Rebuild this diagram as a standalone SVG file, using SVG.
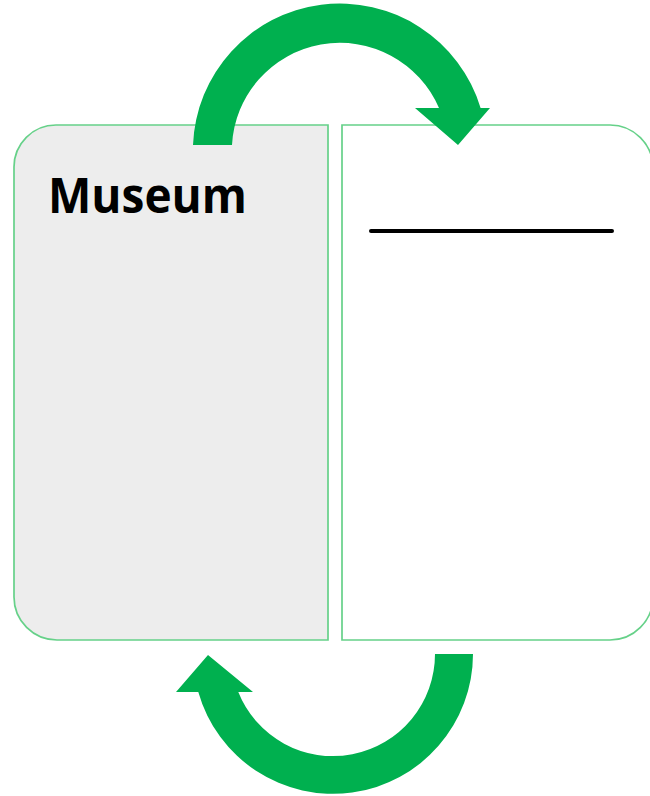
<svg xmlns="http://www.w3.org/2000/svg" width="650" height="796" viewBox="0 0 650 796">
<style>
.panel{stroke:#66d189;stroke-width:1.7}
.arrow{fill:#00b04f}
.label{font-family:"Open Sans","Liberation Sans",sans-serif;font-weight:bold;font-size:48px;fill:#000}
</style>
<rect width="650" height="796" fill="#fff"/>
<g id="museum">
<path class="panel" fill="#ededed" d="M328,125 L56,125 A42 42 0 0 0 14,167 L14,597 A43 43 0 0 0 57,640 L328,640 Z"/>
<text class="label" x="48" y="213" textLength="199" lengthAdjust="spacingAndGlyphs">Museum</text>
</g>
<g id="blank">
<path class="panel" fill="#fff" d="M342,125 L610,125 A43 43 0 0 1 653,168 L653,597 A43 43 0 0 1 610,640 L342,640 Z"/>
<line x1="371" y1="231" x2="612" y2="231" stroke="#000" stroke-width="4" stroke-linecap="round"/>
</g>
<g id="connectors">
<path class="arrow" d="M193,145 A147 147 0 0 1 480.6,108 L490,108 L458,145 L415,108 L439,108 A108 108 0 0 0 232,145 Z"/>
<path class="arrow" d="M473,654 A140 140 0 0 1 198.3,692 L176,692 L208,655 L253,692 L238.3,692 A102 102 0 0 0 435,654 Z"/>
</g>
</svg>
